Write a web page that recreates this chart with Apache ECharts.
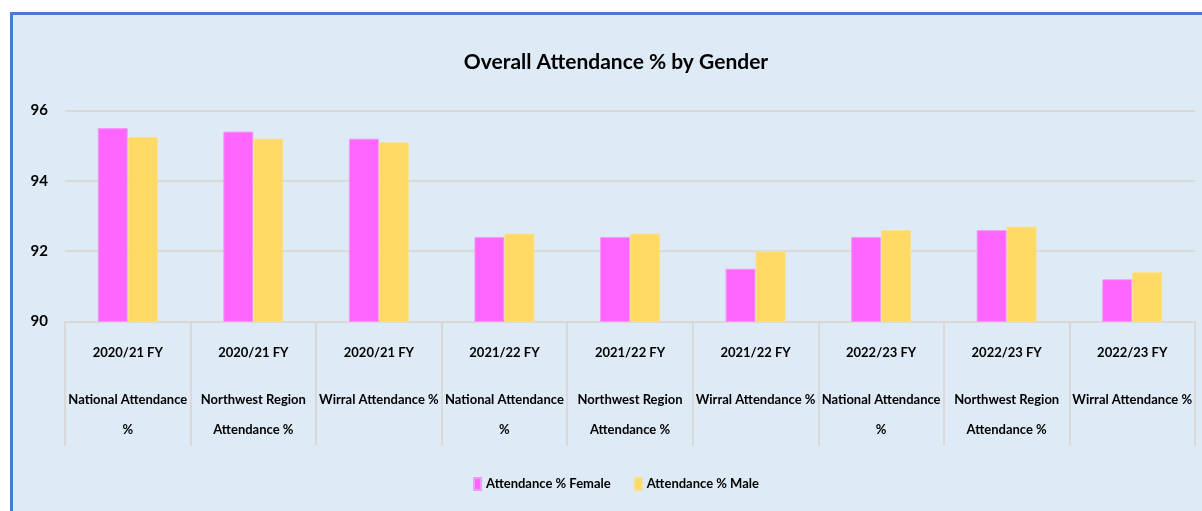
<!DOCTYPE html>
<html>
<head>
<meta charset="utf-8">
<script src="https://cdn.jsdelivr.net/npm/echarts@6/dist/echarts.min.js"></script>
<style>
  html, body { margin: 0; padding: 0; background: #ffffff; }
  #frame {
    position: absolute; left: 10px; top: 12px; width: 1192px; height: 499px;
    background: #deeaf6; border-left: 3px solid #4a7bd0; border-top: 3px solid #4a7bd0;
    box-sizing: border-box;
  }
  #chart { position: absolute; left: 0; top: 0; width: 1202px; height: 511px; }
</style>
</head>
<body>
<div id="frame"></div>
<div id="chart"></div>
<script>
const years = ['2020/21 FY', '2020/21 FY', '2020/21 FY', '2021/22 FY', '2021/22 FY', '2021/22 FY', '2022/23 FY', '2022/23 FY', '2022/23 FY'];
const places = [
  'National Attendance\n%', 'Northwest Region\nAttendance %', 'Wirral Attendance %',
  'National Attendance\n%', 'Northwest Region\nAttendance %', 'Wirral Attendance %',
  'National Attendance\n%', 'Northwest Region\nAttendance %', 'Wirral Attendance %'
];
const female = [95.5, 95.4, 95.2, 92.4, 92.4, 91.5, 92.4, 92.6, 91.2];
const male = [95.25, 95.2, 95.1, 92.5, 92.5, 92.0, 92.6, 92.7, 91.4];
const yTicks = [90, 92, 94, 96];

const font = "Lato, 'DejaVu Sans Condensed', sans-serif";
const categories = years.map((y, i) => y + '|' + places[i]);

const chart = echarts.init(document.getElementById('chart'));

chart.setOption({
  backgroundColor: 'transparent',
  textStyle: { fontFamily: font },
  title: {
    text: 'Overall Attendance % by Gender',
    left: 611,
    textAlign: 'center',
    top: 47,
    textStyle: { fontFamily: font, fontSize: 21, fontWeight: 'bold', color: '#000' }
  },
  legend: {
    data: ['Attendance % Female', 'Attendance % Male'],
    top: 472,
    left: 468,
    itemWidth: 7,
    itemHeight: 12,
    itemGap: 23,
    icon: 'rect',
    textStyle: { fontFamily: font, fontSize: 13, fontWeight: 'bold', color: '#000' }
  },
  grid: { left: 65, right: 7, top: 110.5, bottom: 189.5 },
  xAxis: {
    type: 'category',
    data: categories,
    axisLine: { lineStyle: { color: '#d9d9d9', width: 2 } },
    axisTick: { show: true, length: 124, lineStyle: { color: '#d9d9d9', width: 2 } },
    axisLabel: {
      interval: 0,
      margin: 19,
      formatter: v => {
        const [y, p] = v.split('|');
        return '{y|' + y + '}\n{s| }\n' + p.split('\n').map(l => '{c|' + l + '}').join('\n');
      },
      rich: {
        y: { fontFamily: font, fontSize: 13, fontWeight: 'bold', color: '#000', lineHeight: 24 },
        s: { fontSize: 10, lineHeight: 20 },
        c: { fontFamily: font, fontSize: 13, fontWeight: 'bold', color: '#000', lineHeight: 30 }
      }
    }
  },
  yAxis: {
    type: 'value',
    min: yTicks[0],
    max: yTicks[yTicks.length - 1],
    interval: 2,
    axisLine: { show: false },
    axisTick: { show: false },
    axisLabel: { margin: 17, fontFamily: font, fontSize: 15, fontWeight: 'bold', color: '#000' },
    splitLine: { lineStyle: { color: '#d9d9d9', width: 2 } }
  },
  series: [
    {
      name: 'Attendance % Female',
      type: 'bar',
      data: female,
      barWidth: 30,
      barGap: '0%',
      itemStyle: { color: '#ff66ff', borderColor: '#f09cf0', borderWidth: 1 }
    },
    {
      name: 'Attendance % Male',
      type: 'bar',
      data: male,
      barWidth: 30,
      itemStyle: { color: '#ffd966', borderColor: '#fbe08c', borderWidth: 1 }
    }
  ]
});

window.addEventListener('resize', () => chart.resize());
</script>
</body>
</html>
